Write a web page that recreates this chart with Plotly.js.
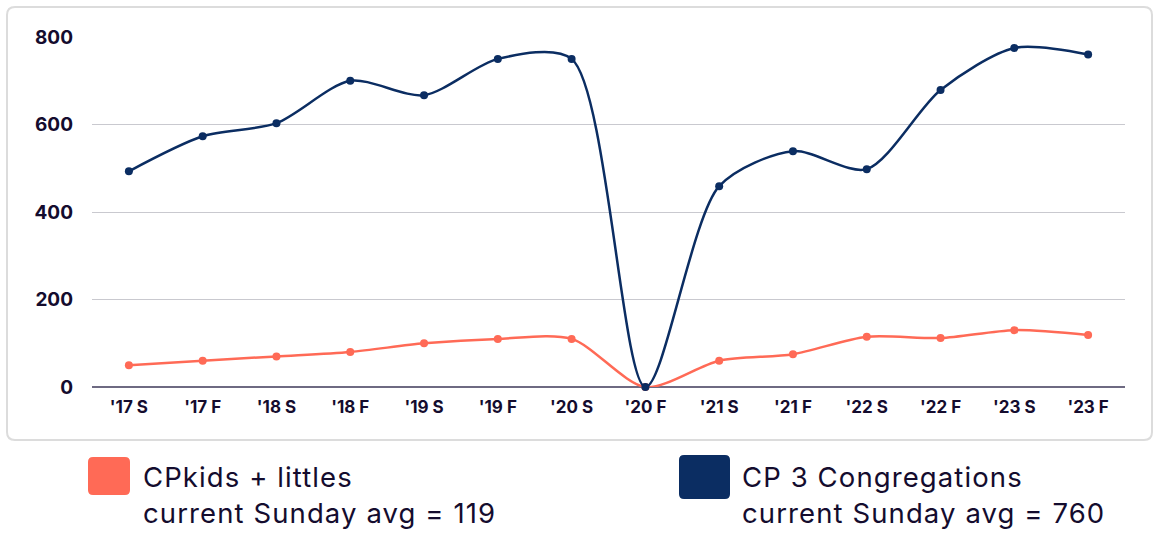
<!DOCTYPE html>
<html>
<head>
<meta charset="utf-8">
<script src="https://cdn.plot.ly/plotly-3.0.1.min.js"></script>
<style>html,body{margin:0;padding:0;background:#fff;}#chart{width:1154px;height:533px;}
.annotation-text{letter-spacing:1.1px;}</style>
</head>
<body>
<div id="chart"></div>
<script>
const categories = ["'17 S","'17 F","'18 S","'18 F","'19 S","'19 F","'20 S","'20 F","'21 S","'21 F","'22 S","'22 F","'23 S","'23 F"];
const congregations = [493, 573, 603, 700, 667, 750, 750, 0, 459, 539, 498, 679, 775, 760];
const cpkids = [50, 60, 70, 80, 100, 110, 110, 0, 60, 75, 115, 112, 130, 119];
const seriesNames = ["CPkids + littles", "CP 3 Congregations"];
const seriesNotes = ["current Sunday avg = 119", "current Sunday avg = 760"];
const yTicks = [0, 200, 400, 600, 800];

const BLUE = "#0b2d62", RED = "#ff6a56", TXT = "#140c2e";
const W = 1154, H = 533, L = 92, R = 29, T = 37, B = 146;
const pw = W - L - R, ph = H - T - B;
const X = p => (p - L) / pw;
const Y = p => (H - B - p) / ph;

function roundRect(x0, y0, x1, y1, r) {
  const rx = r / pw, ry = r / ph;
  const a = X(x0), b = X(x1), c = Y(y0), d = Y(y1);
  return `M ${a + rx} ${c} L ${b - rx} ${c} Q ${b} ${c} ${b} ${c - ry} L ${b} ${d + ry} Q ${b} ${d} ${b - rx} ${d} L ${a + rx} ${d} Q ${a} ${d} ${a} ${d + ry} L ${a} ${c - ry} Q ${a} ${c} ${a + rx} ${c} Z`;
}

const traces = [
  {x: categories, y: cpkids, name: seriesNames[0], type: "scatter", mode: "lines+markers",
   line: {color: RED, width: 2.5, shape: "spline", smoothing: 0.8}, marker: {color: RED, size: 8}, cliponaxis: false},
  {x: categories, y: congregations, name: seriesNames[1], type: "scatter", mode: "lines+markers",
   line: {color: BLUE, width: 2.5, shape: "spline", smoothing: 0.8}, marker: {color: BLUE, size: 8}, cliponaxis: false}
];

const shapes = [
  {type: "path", xref: "paper", yref: "paper", path: roundRect(7, 7, 1152, 440, 8), line: {color: "#dcdcdc", width: 2}, fillcolor: "rgba(0,0,0,0)", layer: "below"},
  {type: "path", xref: "paper", yref: "paper", path: roundRect(88, 457, 130, 495, 5), line: {width: 0}, fillcolor: RED},
  {type: "path", xref: "paper", yref: "paper", path: roundRect(679, 455, 730, 499, 5), line: {width: 0}, fillcolor: BLUE}
];

const legFont = {family: "Inter, 'Noto Sans', sans-serif", size: 27.5, color: TXT};
const ann = (px, py, text) => ({xref: "paper", yref: "paper", x: X(px), y: Y(py), xanchor: "left", yanchor: "middle",
  text: text, showarrow: false, font: legFont, borderpad: 0});
const annotations = [
  ann(142, 477, seriesNames[0]),
  ann(142, 513, seriesNotes[0]),
  ann(741, 477, seriesNames[1]),
  ann(741, 513, seriesNotes[1])
];

const layout = {
  width: W, height: H,
  margin: {l: L, r: R, t: T, b: B, pad: 0},
  paper_bgcolor: "#fff", plot_bgcolor: "#fff",
  showlegend: false,
  xaxis: {type: "category", range: [-0.5, categories.length - 0.5], showgrid: false, zeroline: false,
          showline: false, ticks: "", tickfont: {family: "Inter, sans-serif", size: 17, color: TXT, weight: 700}, ticklabelstandoff: 8},
  yaxis: {range: [0, 800], tickvals: yTicks, ticktext: yTicks.map(String), showgrid: true, gridcolor: "#c9c9cf", gridwidth: 1,
          zeroline: true, zerolinecolor: "#6e6a82", zerolinewidth: 1.5, showline: false, ticks: "",
          tickfont: {family: "Inter, sans-serif", size: 19, color: TXT, weight: 700}, ticklabelstandoff: 18},
  shapes: shapes,
  annotations: annotations,
  hovermode: false
};

Plotly.newPlot("chart", traces, layout, {displayModeBar: false, staticPlot: true});
</script>
</body>
</html>
